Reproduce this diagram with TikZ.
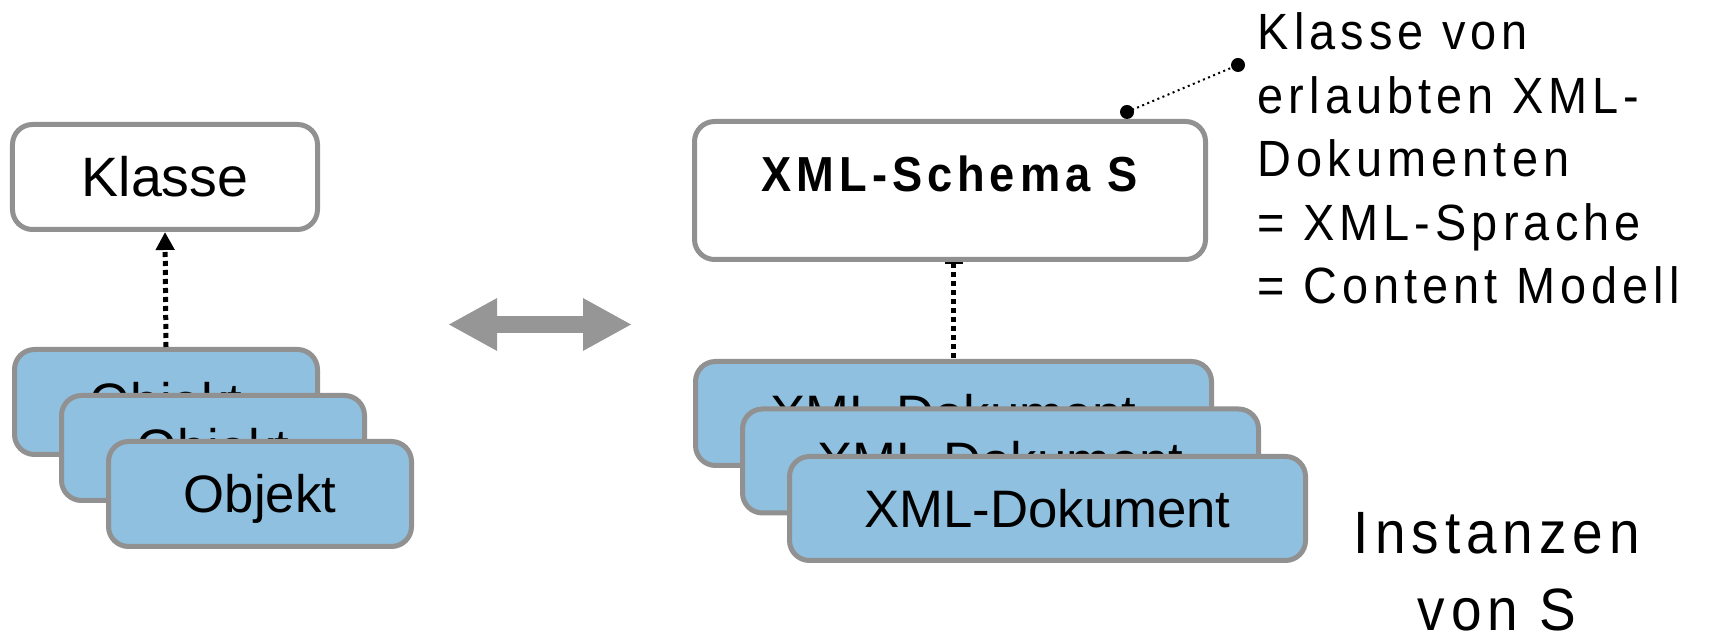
\documentclass[tikz,border=0pt]{standalone}
\usepackage{fontspec}
\setmainfont{Liberation Sans}
\newfontfamily\spacedfont[FakeStretch=0.92, LetterSpace=10]{Liberation Sans}
\usetikzlibrary{arrows.meta}
\definecolor{boxblue}{RGB}{143,192,223}
\definecolor{boxgray}{RGB}{145,145,145}
\definecolor{arrowgray}{RGB}{150,150,150}

\begin{document}
\begin{tikzpicture}[
	box/.style={draw=boxgray, line width=0.05cm, rounded corners=0.2cm, inner sep=0, text depth=0},
	objbox/.style={box, fill=boxblue, minimum width=3.03cm, minimum height=1.05cm, text height=0.38cm, font=\fontsize{15}{18}\selectfont},
	docbox/.style={box, fill=boxblue, minimum width=5.16cm, minimum height=1.04cm, text height=0.38cm, font=\fontsize{15}{18}\selectfont},
	dotline/.style={line width=0.05cm, dash pattern=on 0.05cm off 0.04cm}
	]
	\useasboundingbox (0,0) rectangle (17.33,-6.39);

	% left side
	\node [box, fill=white, minimum width=3.05cm, minimum height=1.05cm, text height=0.40cm, font=\fontsize{15.8}{19}\selectfont] (klasse) at (1.65,-1.77) {Klasse};
	\node [objbox] (obj1) at (1.66,-4.02) {Objekt};
	\node [objbox] (obj2) at (2.13,-4.48) {Objekt};
	\node [objbox] (obj3) at (2.60,-4.94) {Objekt};

	\draw [dotline, -{Triangle[length=0.18cm, width=0.18cm]}] (obj1.north) -- (klasse.south);

	% double arrow
	\coordinate (swapL) at (4.48,-3.245);
	\coordinate (swapR) at (6.32,-3.245);
	\draw [arrowgray, line width=0.17cm, {Triangle[length=0.49cm, width=0.49cm]}-{Triangle[length=0.49cm, width=0.49cm]}] (swapL) -- (swapR);

	% right side
	\node [box, fill=white, minimum width=5.11cm, text height=0.705cm, text depth=0.675cm, font=\spacedfont\bfseries\fontsize{14}{17}\selectfont] (schema) at (9.50,-1.905) {XML-Schema S};
	\node [docbox] (doc1) at (9.535,-4.135) {XML-Dokument};
	\node [docbox] (doc2) at (10.005,-4.61) {XML-Dokument};
	\node [docbox] (doc3) at (10.475,-5.085) {XML-Dokument};

	\draw [dotline, {Bar[width=0.18cm, line width=0.02cm]}-] (doc1.north |- schema.south) -- (doc1.north);

	% annotation
	\node [anchor=north west, inner sep=0, align=left, font=\spacedfont\fontsize{14.5}{18.07}\selectfont] (note) at (12.57,-0.12) {Klasse von\\erlaubten XML-\\Dokumenten\\= XML-Sprache\\= Content Modell};
	\coordinate (pinbox) at (11.27,-1.12);
	\coordinate (pintext) at (12.38,-0.65);
	\draw [line width=0.02cm, dash pattern=on 0.02cm off 0.035cm] (pinbox) -- (pintext);
	\fill (pinbox) circle (0.07);
	\fill (pintext) circle (0.07);

	\node [anchor=north, inner sep=0, align=center, font=\spacedfont\fontsize{17}{21.9}\selectfont] (inst) at (14.97,-5.12) {Instanzen\\von S};
\end{tikzpicture}
\end{document}
